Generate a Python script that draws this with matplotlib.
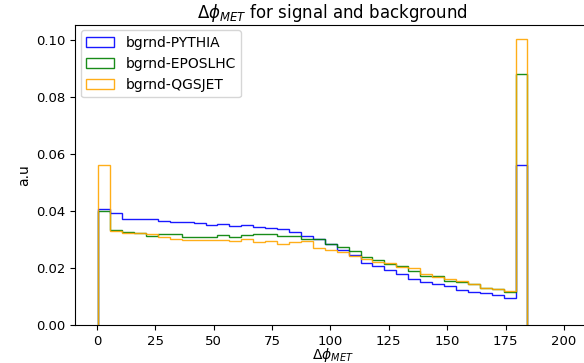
import numpy as np
import matplotlib; matplotlib.use("Agg"); import matplotlib.pyplot as plt

# bin edges of the delta-phi histogram (degrees), 36 bins
edges = np.linspace(0.6, 184.4, 37)

pythia = [0.0406, 0.0391, 0.0373, 0.0371, 0.0371, 0.0365, 0.0361, 0.0360, 0.0357,
          0.0350, 0.0353, 0.0348, 0.0352, 0.0343, 0.0340, 0.0337, 0.0326, 0.0313,
          0.0301, 0.0283, 0.0262, 0.0247, 0.0219, 0.0207, 0.0191, 0.0179, 0.0160,
          0.0151, 0.0143, 0.0135, 0.0123, 0.0117, 0.0113, 0.0106, 0.0096, 0.0561]
eposlhc = [0.0401, 0.0332, 0.0326, 0.0323, 0.0313, 0.0318, 0.0318, 0.0310, 0.0310,
           0.0309, 0.0316, 0.0309, 0.0317, 0.0320, 0.0318, 0.0312, 0.0312, 0.0303,
           0.0301, 0.0285, 0.0275, 0.0260, 0.0240, 0.0228, 0.0214, 0.0207, 0.0190,
           0.0173, 0.0171, 0.0153, 0.0150, 0.0143, 0.0129, 0.0125, 0.0116, 0.0880]
qgsjet = [0.0561, 0.0330, 0.0324, 0.0324, 0.0318, 0.0308, 0.0302, 0.0298, 0.0298,
          0.0297, 0.0297, 0.0294, 0.0303, 0.0290, 0.0295, 0.0285, 0.0291, 0.0294,
          0.0269, 0.0263, 0.0255, 0.0242, 0.0232, 0.0220, 0.0216, 0.0205, 0.0200,
          0.0177, 0.0168, 0.0161, 0.0154, 0.0145, 0.0130, 0.0126, 0.0119, 0.1002]

series = [('bgrnd-PYTHIA', pythia, 'blue'),
          ('bgrnd-EPOSLHC', eposlhc, 'green'),
          ('bgrnd-QGSJET', qgsjet, 'orange')]

fig = plt.figure(figsize=(5.84, 3.63), dpi=100)
ax = fig.add_axes([0.129, 0.1047, 0.881, 0.827])
mids = 0.5 * (edges[:-1] + edges[1:])
for name, vals, c in series:
    ax.hist(mids, bins=edges, weights=vals, histtype='step', color=c, label=name, alpha=0.9, lw=1.0)

ax.set_xlim(-9.2, 211.1)
ax.set_xticks(np.arange(0, 201, 25))
ax.set_yticks(np.arange(0, 0.101, 0.02))
ax.yaxis.set_major_formatter(matplotlib.ticker.FormatStrFormatter('%.2f'))
ax.tick_params(labelsize=9.5)
ax.set_xlabel(r'$\Delta\phi_{MET}$', labelpad=-1)
ax.set_ylabel('a.u')
ax.set_title(r'$\Delta\phi_{MET}$ for signal and background', pad=5)
ax.legend(loc='upper left', borderaxespad=0.4)
fig.savefig('out.png', dpi=100)
